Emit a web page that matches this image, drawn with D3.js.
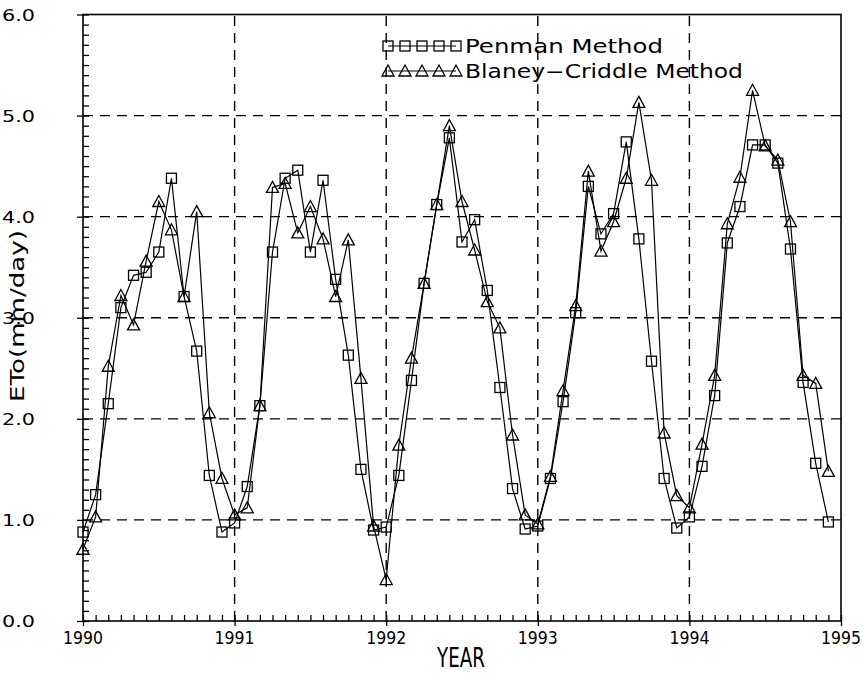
<!DOCTYPE html>
<html>
<head>
<meta charset="utf-8">
<script src="https://cdn.jsdelivr.net/npm/d3@7"></script>
<style>
  body { margin: 0; background: #fff; }
  svg text { fill: #000; }
</style>
</head>
<body>
<div id="chart"></div>
<script>
// monthly ETo values, Jan 1990 .. Dec 1994
var penman = [
  0.88, 1.25, 2.15, 3.10, 3.42, 3.45, 3.65, 4.38, 3.21, 2.67, 1.44, 0.88,
  0.97, 1.33, 2.13, 3.65, 4.38, 4.46, 3.65, 4.36, 3.38, 2.63, 1.50, 0.90,
  0.93, 1.44, 2.38, 3.34, 4.12, 4.78, 3.75, 3.97, 3.27, 2.31, 1.31, 0.91,
  0.94, 1.41, 2.17, 3.05, 4.30, 3.83, 4.03, 4.74, 3.78, 2.57, 1.41, 0.92,
  1.03, 1.53, 2.23, 3.74, 4.10, 4.71, 4.71, 4.53, 3.68, 2.36, 1.56, 0.98
];
var blaney = [
  0.71, 1.03, 2.52, 3.22, 2.93, 3.56, 4.15, 3.87, 3.21, 4.05, 2.06, 1.41,
  1.05, 1.12, 2.13, 4.29, 4.33, 3.84, 4.10, 3.78, 3.21, 3.77, 2.40, 0.94,
  0.41, 1.74, 2.60, 3.34, 4.12, 4.90, 4.15, 3.67, 3.16, 2.90, 1.84, 1.05,
  0.96, 1.43, 2.28, 3.12, 4.45, 3.66, 3.95, 4.38, 5.13, 4.36, 1.86, 1.24,
  1.12, 1.75, 2.43, 3.93, 4.39, 5.25, 4.70, 4.56, 3.95, 2.43, 2.35, 1.48
];
var yearTicks = [1990, 1991, 1992, 1993, 1994, 1995];
var yTicks = [0, 1, 2, 3, 4, 5, 6];
var seriesNames = ["Penman Method", "Blaney\u2212Criddle Method"];

var W = 863, H = 678;
var x = d3.scaleLinear().domain([1990, 1995]).range([83, 841]);
var y = d3.scaleLinear().domain([0, 6]).range([621, 14.5]);

var svg = d3.select("#chart").append("svg")
  .attr("width", W).attr("height", H);

// dashed grid
var grid = svg.append("g")
  .attr("stroke", "#000").attr("stroke-width", 1.4)
  .attr("stroke-dasharray", "10,7");
grid.selectAll(".gx").data(yearTicks.slice(1, -1)).enter().append("line")
  .attr("x1", d => x(d)).attr("x2", d => x(d))
  .attr("y1", y(0)).attr("y2", y(6));
grid.selectAll(".gy").data(yTicks.slice(1, -1)).enter().append("line")
  .attr("x1", x(1990)).attr("x2", x(1995))
  .attr("y1", d => y(d)).attr("y2", d => y(d));

// frame
svg.append("rect")
  .attr("x", x(1990)).attr("y", y(6))
  .attr("width", x(1995) - x(1990)).attr("height", y(0) - y(6))
  .attr("fill", "none").attr("stroke", "#000").attr("stroke-width", 1.6);

// axes, ticks pointing inward
var minorX = d3.range(0, 61).map(i => 1990 + i / 12);
var minorY = d3.range(0, 61).map(i => i / 10);

svg.append("g")
  .attr("transform", "translate(0," + y(0) + ")")
  .call(d3.axisTop(x).tickValues(minorX).tickSize(6).tickFormat(""))
  .call(g => g.select(".domain").remove());
svg.append("g")
  .attr("transform", "translate(0," + y(0) + ")")
  .call(d3.axisBottom(x).tickValues(yearTicks).tickSize(5).tickFormat(""))
  .call(g => g.select(".domain").remove());

svg.append("g")
  .attr("transform", "translate(" + x(1990) + ",0)")
  .call(d3.axisRight(y).tickValues(minorY).tickSize(6).tickFormat(""))
  .call(g => g.select(".domain").remove());
svg.append("g")
  .attr("transform", "translate(" + x(1990) + ",0)")
  .call(d3.axisLeft(y).tickValues(yTicks).tickSize(6).tickFormat(""))
  .call(g => g.select(".domain").remove());
svg.selectAll(".tick line").attr("stroke", "#000").attr("stroke-width", 1.3);

// tick labels
svg.selectAll(".xl").data(yearTicks).enter().append("text")
  .attr("x", d => x(d)).attr("y", y(0) + 23)
  .attr("text-anchor", "middle")
  .attr("font-family", "DejaVu Sans")
  .attr("font-size", 17)
  .attr("textLength", 40).attr("lengthAdjust", "spacingAndGlyphs")
  .text(d => d);

svg.selectAll(".yl").data(yTicks).enter().append("text")
  .attr("x", 2).attr("y", d => y(d) + 6)
  .attr("font-family", "DejaVu Sans")
  .attr("font-size", 16)
  .attr("textLength", 33).attr("lengthAdjust", "spacingAndGlyphs")
  .text(d => d3.format(".1f")(d));

// axis titles
svg.append("text")
  .attr("x", 461).attr("y", 667)
  .attr("text-anchor", "middle")
  .attr("font-family", "DejaVu Sans").attr("font-size", 27)
  .attr("textLength", 48).attr("lengthAdjust", "spacingAndGlyphs")
  .text("YEAR");

svg.append("text")
  .attr("transform", "translate(24,316) rotate(-90)")
  .attr("text-anchor", "middle")
  .attr("font-family", "DejaVu Sans").attr("font-size", 20)
  .attr("textLength", 172).attr("lengthAdjust", "spacingAndGlyphs")
  .text("ETo(mm/day)");

// series
var months = d3.range(0, 60).map(i => 1990 + i / 12);
var line = d3.line().x((d, i) => x(months[i])).y(d => y(d));

function square(g, cx, cy) {
  g.append("rect")
    .attr("x", cx - 5).attr("y", cy - 5)
    .attr("width", 10).attr("height", 10)
    .attr("fill", "none").attr("stroke", "#000").attr("stroke-width", 1.3);
}
function triangle(g, cx, cy) {
  g.append("path")
    .attr("d", "M" + (cx - 6) + "," + (cy + 5) + "L" + cx + "," + (cy - 6) + "L" + (cx + 6) + "," + (cy + 5) + "Z")
    .attr("fill", "none").attr("stroke", "#000").attr("stroke-width", 1.3);
}

[penman, blaney].forEach(function (vals, k) {
  var g = svg.append("g");
  g.append("path").datum(vals)
    .attr("d", line)
    .attr("fill", "none").attr("stroke", "#000").attr("stroke-width", 1.2);
  vals.forEach(function (v, i) {
    if (k == 0) square(g, x(months[i]), y(v));
    else triangle(g, x(months[i]), y(v));
  });
});

// legend
var legend = svg.append("g");
[0, 1].forEach(function (k) {
  var ly = 46 + k * 25;
  legend.append("line")
    .attr("x1", 388).attr("x2", 456).attr("y1", ly).attr("y2", ly)
    .attr("stroke", "#000").attr("stroke-width", 1.2);
  for (var j = 0; j < 5; j++) {
    if (k == 0) square(legend, 388 + j * 17, ly);
    else triangle(legend, 388 + j * 17, ly);
  }
  legend.append("text")
    .attr("x", 465).attr("y", ly + 7)
    .attr("font-family", "DejaVu Sans").attr("font-size", 19)
    .attr("textLength", k == 0 ? 198 : 278).attr("lengthAdjust", "spacingAndGlyphs")
    .text(seriesNames[k]);
});
</script>
</body>
</html>
